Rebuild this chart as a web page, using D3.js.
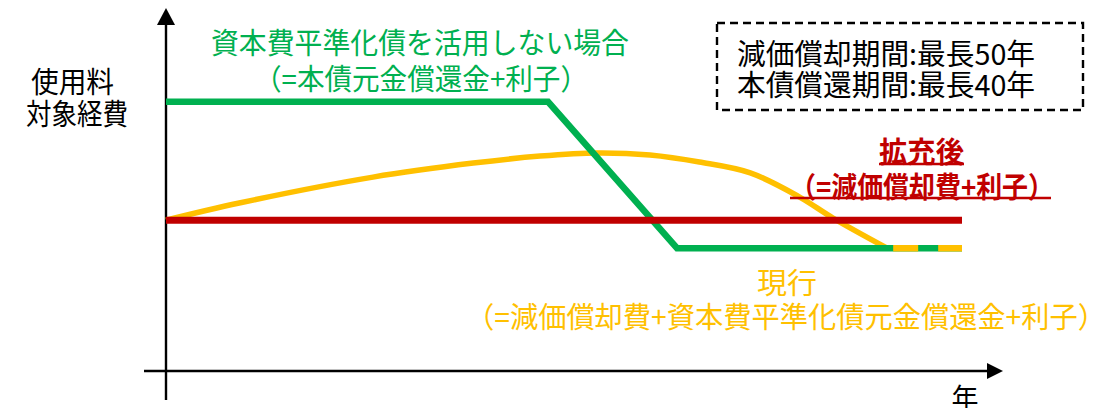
<!DOCTYPE html>
<html>
<head>
<meta charset="utf-8">
<script src="https://cdn.jsdelivr.net/npm/d3@7"></script>
<style>
  body { margin: 0; background: #fff; }
  text { font-family: "Noto Sans CJK JP", sans-serif; }
</style>
</head>
<body>
<div id="chart"></div>
<script>
// series (x = years, y = relative cost)
var greenYears = [0, 24, 32.1, 50];
var greenCost = [76.9, 76.9, 35.1, 35.1];

var redYears = [0, 50];
var redCost = [43.1, 43.1];

var yellowYears = [0, 4.6, 13, 19.3, 23.5, 27.1, 30.4, 33.5, 36.7, 39.8, 41.9, 45.3];
var yellowCost = [43.1, 48.0, 55.4, 59.4, 61.4, 62.3, 61.7, 59.7, 56.6, 49.7, 43.7, 35.1];

var yellowTailYears = [45.3, 50];
var yellowTailCost = [35.1, 35.1];

var yLabel = ["使用料", "対象経費"];
var xLabel = "年";
var greenLabel = ["資本費平準化債を活用しない場合", "（=本債元金償還金+利子）"];
var redLabel = ["拡充後", "（=減価償却費+利子）"];
var yellowLabel = ["現行", "（=減価償却費+資本費平準化債元金償還金+利子）"];
var boxLabel = ["減価償却期間:最長50年", "本債償還期間:最長40年"];

var svgWidth = 1110;
var svgHeight = 408;

var svg = d3.select("#chart")
  .append("svg")
  .attr("width", svgWidth)
  .attr("height", svgHeight);

var xScale = d3.scaleLinear().domain([0, 50]).range([166, 962]);
var yScale = d3.scaleLinear().domain([0, 100]).range([371, 21]);

function zip(xs, ys) {
  return xs.map((x, i) => [x, ys[i]]);
}

var line = d3.line()
  .x(d => xScale(d[0]))
  .y(d => yScale(d[1]));

// axes with arrow heads
var x0 = xScale(0), y0 = yScale(0);
svg.append("line")
  .attr("x1", x0).attr("x2", x0)
  .attr("y1", 24).attr("y2", 400)
  .attr("stroke", "#000").attr("stroke-width", 2.4);
svg.append("polygon")
  .attr("points", `${x0 - 9},25 ${x0 + 9},25 ${x0},8`)
  .attr("fill", "#000");

svg.append("line")
  .attr("x1", 144).attr("x2", 988)
  .attr("y1", y0).attr("y2", y0)
  .attr("stroke", "#000").attr("stroke-width", 2.4);
svg.append("polygon")
  .attr("points", `987,${y0 - 8} 987,${y0 + 8} 1003,${y0}`)
  .attr("fill", "#000");

// series
svg.append("path")
  .datum(zip(yellowYears, yellowCost))
  .attr("d", line.curve(d3.curveCatmullRom))
  .attr("fill", "none")
  .attr("stroke", "#FFC000")
  .attr("stroke-width", 5.5);

line.curve(d3.curveLinear);

svg.append("path")
  .datum(zip(greenYears, greenCost))
  .attr("d", line)
  .attr("fill", "none")
  .attr("stroke", "#00B050")
  .attr("stroke-width", 6.5);

svg.append("path")
  .datum(zip(redYears, redCost))
  .attr("d", line)
  .attr("fill", "none")
  .attr("stroke", "#C00000")
  .attr("stroke-width", 7);

svg.append("path")
  .datum(zip(yellowTailYears, yellowTailCost))
  .attr("d", line)
  .attr("fill", "none")
  .attr("stroke", "#FFC000")
  .attr("stroke-width", 6.5)
  .attr("stroke-dasharray", "25,20")
  .attr("stroke-dashoffset", 39);

// text helper: x = left edge, w = advance width, y = vertical centre
function label(str, x, w, y, size, color, bold) {
  return svg.append("text")
    .attr("x", x)
    .attr("y", y)
    .attr("dominant-baseline", "central")
    .attr("textLength", w)
    .attr("lengthAdjust", "spacingAndGlyphs")
    .style("font-size", size + "px")
    .style("font-weight", bold ? 700 : 400)
    .attr("fill", color)
    .text(str);
}

label(yLabel[0], 31, 83, 80, 29, "#000");
label(yLabel[1], 26, 102, 112, 29, "#000");

svg.append("text")
  .attr("x", 965)
  .attr("y", 396)
  .attr("text-anchor", "middle")
  .attr("dominant-baseline", "central")
  .style("font-size", "27px")
  .text(xLabel);

label(greenLabel[0], 211, 418, 41, 29, "#00B050");
label(greenLabel[1], 254, 334, 77, 29, "#00B050");

label(yellowLabel[0], 757, 60, 281, 29, "#FFC000");
label(yellowLabel[1], 466, 640, 315, 29, "#FFC000");

var red1 = label(redLabel[0], 879, 85, 150, 29, "#C00000", true);
var red2 = label(redLabel[1], 790, 264, 185, 29, "#C00000", true);

// underlines under the red label
[[red1, 164], [red2, 198]].forEach(function(p) {
  var x = +p[0].attr("x"), w = +p[0].attr("textLength");
  svg.append("line")
    .attr("x1", x).attr("x2", Math.min(x + w, 1051))
    .attr("y1", p[1]).attr("y2", p[1])
    .attr("stroke", "#C00000")
    .attr("stroke-width", 2.4);
});

// dashed note box
svg.append("rect")
  .attr("x", 717).attr("y", 23)
  .attr("width", 366).attr("height", 87)
  .attr("fill", "none")
  .attr("stroke", "#000")
  .attr("stroke-width", 2.4)
  .attr("stroke-dasharray", "8,5");

label(boxLabel[0], 737, 298, 52, 29, "#000");
label(boxLabel[1], 737, 298, 83, 29, "#000");
</script>
</body>
</html>
